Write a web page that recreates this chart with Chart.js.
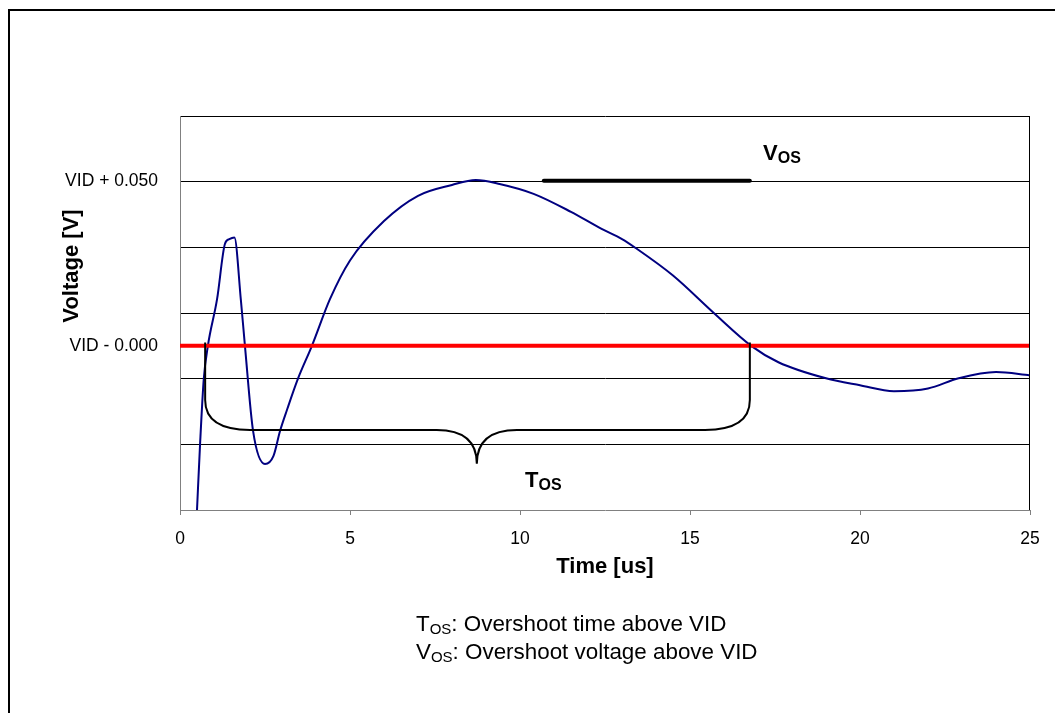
<!DOCTYPE html>
<html>
<head>
<meta charset="utf-8">
<script src="https://cdn.jsdelivr.net/npm/chart.js@4/dist/chart.umd.min.js"></script>
<style>
html, body { margin: 0; padding: 0; background: #fff; }
</style>
</head>
<body>
<canvas id="myChart" width="1055" height="713"></canvas>
<script>
// scope trace: time [us] and voltage relative to VID [V]
var timeUs  = [0.5, 0.59, 0.7, 0.82, 1.09, 1.32, 1.45, 1.6, 1.79, 1.91, 2.15, 2.5, 2.75, 2.94, 3.15, 3.47, 3.88, 4.41, 5.0, 6.0, 7.0, 8.0, 8.7, 9.4, 10.4, 11.5, 12.4, 13.0, 13.4, 14.5, 15.7, 16.8, 17.6, 19.0, 20.0, 21.0, 22.0, 22.9, 24.0, 25.0];
var voltage = [-0.05, -0.03, -0.01, 0.0, 0.0142, 0.031, 0.0325, 0.033, 0.014, 0.0, -0.026, -0.036, -0.0335, -0.026, -0.0194, -0.01, 0.0, 0.0142, 0.026, 0.038, 0.0457, 0.049, 0.0505, 0.0493, 0.0463, 0.0408, 0.0356, 0.0325, 0.0298, 0.0214, 0.0100, 0.0, -0.005, -0.0099, -0.012, -0.0138, -0.013, -0.0099, -0.008, -0.009];

// VID reference level
var vidTime = [0, 25];
var vidLevel = [0, 0];

// V_OS marker bar
var vosTime = [10.7, 16.76];
var vosLevel = [0.0503, 0.0503];

// T_OS brace (data units)
var braceX = [0.74, 8.73, 16.76];      // left end, cusp, right end
var braceY = [0.001, -0.0165, -0.0256, -0.0359]; // top, bend, arm, tip
var braceCorner = 1.32;
var braceCusp = 1.18;

// axis ticks
var xTicks = [0, 5, 10, 15, 20, 25];
var yTicks = [-0.05, -0.03, -0.01, 0, 0.01, 0.03, 0.05, 0.07];
var yTickText = ["", "", "", "VID - 0.000", "", "", "VID + 0.050", ""];

var FONT = '"Liberation Sans", Arial, sans-serif';

function pts(xs, ys) {
  return xs.map(function (x, i) { return { x: x, y: ys[i] }; });
}

function subLabel(ctx, x, y, main, sub, rest, size, subSize, bold) {
  var b = bold ? 'bold ' : '';
  ctx.font = b + size + 'px ' + FONT;
  ctx.fillText(main, x, y);
  var w = ctx.measureText(main).width;
  ctx.font = b + subSize + 'px ' + FONT;
  ctx.fillText(sub, x + w, y + 3);
  w += ctx.measureText(sub).width;
  if (rest) {
    ctx.font = b + size + 'px ' + FONT;
    ctx.fillText(rest, x + w, y);
  }
}

var extras = {
  id: 'extras',
  beforeDraw: function (chart) {
    var ctx = chart.ctx;
    ctx.save();
    ctx.strokeStyle = '#000';
    ctx.lineWidth = 2;
    ctx.strokeRect(9, 10, 1100, 800);
    ctx.restore();
  },
  afterDraw: function (chart) {
    var ctx = chart.ctx, a = chart.chartArea;
    var sx = chart.scales.x, sy = chart.scales.y;
    var px = function (v) { return sx.getPixelForValue(v); };
    var py = function (v) { return sy.getPixelForValue(v); };
    ctx.save();
    // right frame of plot area
    ctx.strokeStyle = '#000';
    ctx.lineWidth = 1;
    ctx.beginPath();
    ctx.moveTo(Math.round(a.right) - 0.5, a.top);
    ctx.lineTo(Math.round(a.right) - 0.5, a.bottom);
    ctx.stroke();

    // brace
    var L = braceX[0], C = braceX[1], R = braceX[2];
    ctx.lineWidth = 2;
    ctx.beginPath();
    ctx.moveTo(px(L), py(braceY[0]));
    ctx.lineTo(px(L), py(braceY[1]));
    ctx.quadraticCurveTo(px(L), py(braceY[2]), px(L + braceCorner), py(braceY[2]));
    ctx.lineTo(px(C - braceCusp), py(braceY[2]));
    ctx.quadraticCurveTo(px(C), py(braceY[2]), px(C), py(braceY[3]));
    ctx.quadraticCurveTo(px(C), py(braceY[2]), px(C + braceCusp), py(braceY[2]));
    ctx.lineTo(px(R - braceCorner), py(braceY[2]));
    ctx.quadraticCurveTo(px(R), py(braceY[2]), px(R), py(braceY[1]));
    ctx.lineTo(px(R), py(braceY[0]));
    ctx.stroke();

    ctx.fillStyle = '#000';
    ctx.textBaseline = 'alphabetic';
    ctx.textAlign = 'left';
    subLabel(ctx, px(17.15), py(0.0566), 'V', 'OS', '', 22, 16, true);
    subLabel(ctx, px(10.15), py(-0.0431), 'T', 'OS', '', 22, 16, true);

    // axis titles
    ctx.font = 'bold 22px ' + FONT;
    ctx.textAlign = 'center';
    ctx.fillText('Time [us]', (a.left + a.right) / 2, 573);
    ctx.save();
    ctx.translate(78, 266);
    ctx.rotate(-Math.PI / 2);
    ctx.fillText('Voltage [V]', 0, 0);
    ctx.restore();

    // notes
    ctx.textAlign = 'left';
    subLabel(ctx, 416, 631, 'T', 'OS', ': Overshoot time above VID', 22.4, 15, false);
    subLabel(ctx, 416, 659, 'V', 'OS', ': Overshoot voltage above VID', 22.4, 15, false);
    ctx.restore();
  }
};

var ctx = document.getElementById('myChart').getContext('2d');
var chart = new Chart(ctx, {
  type: 'line',
  data: {
    datasets: [{
      label: 'V_OS',
      data: pts(vosTime, vosLevel),
      borderColor: '#000',
      borderWidth: 4,
      borderCapStyle: 'round',
      pointRadius: 0
    }, {
      label: 'VID',
      data: pts(vidTime, vidLevel),
      borderColor: '#ff0000',
      borderWidth: 4,
      pointRadius: 0
    }, {
      label: 'Vout',
      data: pts(timeUs, voltage),
      borderColor: '#000080',
      borderWidth: 2,
      pointRadius: 0,
      cubicInterpolationMode: 'monotone'
    }]
  },
  options: {
    responsive: false,
    animation: false,
    events: [],
    layout: { padding: { top: 116, right: 25, bottom: 143, left: 0 } },
    plugins: {
      legend: { display: false },
      tooltip: { enabled: false }
    },
    scales: {
      x: {
        type: 'linear',
        min: 0,
        max: 25,
        afterBuildTicks: function (scale) {
          scale.ticks = xTicks.map(function (v) { return { value: v }; });
        },
        afterFit: function (scale) { scale.height = 60; },
        grid: { drawOnChartArea: false, drawTicks: true, tickLength: 5, color: '#808080' },
        border: { color: '#808080', width: 1 },
        ticks: { color: '#000', padding: 14, maxRotation: 0, font: { family: FONT, size: 17.5 } }
      },
      y: {
        type: 'linear',
        min: -0.05,
        max: 0.07,
        afterBuildTicks: function (scale) {
          scale.ticks = yTicks.map(function (v) { return { value: v }; });
        },
        afterFit: function (scale) { scale.width = 180; },
        grid: {
          drawTicks: false,
          color: function (c) {
            var v = c.tick ? c.tick.value : null;
            if (v === 0 || v === -0.05) return 'rgba(0,0,0,0)';
            return '#000';
          }
        },
        border: { color: '#808080', width: 1 },
        ticks: {
          color: '#000',
          padding: 22,
          font: { family: FONT, size: 17.5 },
          callback: function (value) {
            var i = yTicks.indexOf(value);
            return i >= 0 ? yTickText[i] : '';
          }
        }
      }
    }
  },
  plugins: [extras]
});
</script>
</body>
</html>
